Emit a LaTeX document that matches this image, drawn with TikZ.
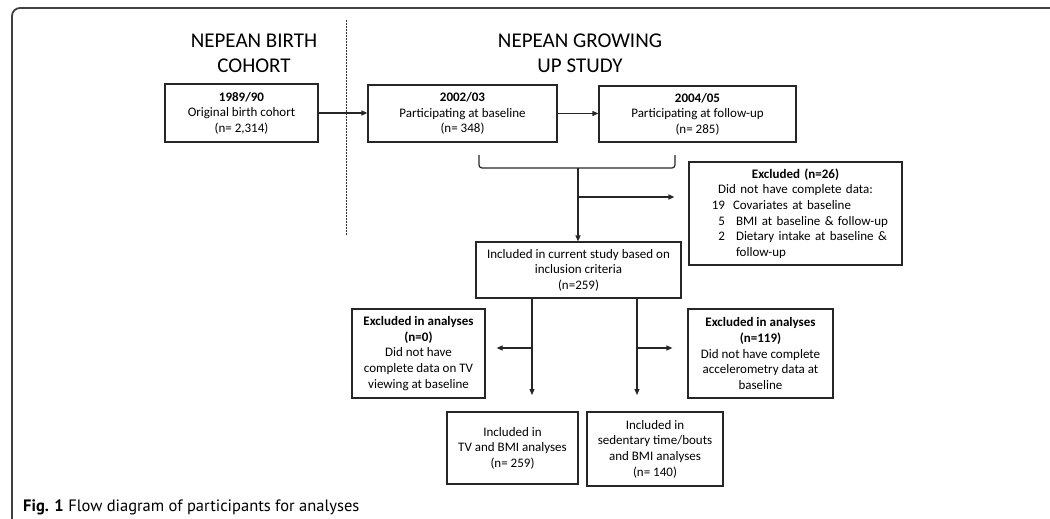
\documentclass[tikz,border=0pt]{standalone}
\usepackage{fontspec}
\setmainfont{Carlito}
\newfontfamily\capfont{PT Sans}
\usetikzlibrary{arrows.meta}
\begin{document}
\begin{tikzpicture}[x=1pt,y=-1pt,
  box/.style={draw=black!85, line width=1.2pt, inner sep=0pt, align=center,
    font=\fontsize{13}{15.6}\selectfont},
  arr/.style={draw=black!85, line width=1.2pt, -{Triangle[length=6pt,width=5pt]}},
  ln/.style={draw=black!85, line width=1.2pt},
  frame/.style={draw=black!75, line width=1.8pt, rounded corners=8pt},
  title/.style={align=center, font=\fontsize{21}{25}\selectfont, inner sep=0pt}]
\useasboundingbox (0,0) rectangle (1050,519);

% frame and divider
\coordinate (fbl) at (12,519);
\coordinate (ftl) at (12,8);
\coordinate (ftr) at (1050,8);
\draw[frame] (fbl) -- (ftl) -- (ftr);
\coordinate (dtop) at (346,20);
\coordinate (dbot) at (346,235);
\draw[draw=black!80, line width=0.9pt, dash pattern=on 2pt off 1pt] (dtop) -- (dbot);

% titles
\node[title] (t1) at (254,53.5) {NEPEAN BIRTH\\COHORT};
\node[title] (t2) at (580,53.5) {NEPEAN GROWING\\UP STUDY};

% top row
\node[box, minimum width=153pt, minimum height=58pt] (b1) at (241.5,113)
  {\textbf{1989/90}\\Original birth cohort\\(n= 2,314)};
\node[box, minimum width=189pt, minimum height=57pt] (b2) at (462.5,113.5)
  {\textbf{2002/03}\\Participating at baseline\\(n= 348)};
\node[box, minimum width=197pt, minimum height=56pt] (b3) at (697.5,114)
  {\textbf{2004/05}\\Participating at follow-up\\(n= 285)};
\draw[arr] (b1.east) -- (b1.east -| b2.west);
\draw[arr] (b2.east) -- (b2.east -| b3.west);

% excluded n=26
\node[draw=black!85, line width=1.2pt, inner sep=0pt, text width=213pt,
  minimum height=103pt, font=\fontsize{13}{15.6}\selectfont] (ex26) at (795.5,213.5)
  {{\centering\textbf{Excluded (n=26)}\par Did not have complete data:\par}
   \noindent\hspace*{20pt}\makebox[16pt][r]{19}\hspace{8pt}Covariates at baseline\par
   \noindent\hspace*{20pt}\makebox[16pt][r]{5}\hspace{11pt}BMI at baseline \& follow-up\par
   \noindent\hspace*{20pt}\makebox[16pt][r]{2}\hspace{11pt}Dietary intake at baseline \&\par
   \noindent\hspace*{47pt}follow-up\par};

% bracket
\coordinate (brA) at (479,155);
\coordinate (brB) at (479,168);
\coordinate (brC) at (675,168);
\coordinate (brD) at (675,155);
\coordinate (brM) at (578,168);
\coordinate (brJ) at (578,197);
\draw[ln, rounded corners=3pt] (brA) -- (brB) -- (brC) -- (brD);

% included
\node[box, minimum width=205pt, minimum height=56pt] (inc) at (578.5,270)
  {Included in current study based on\\inclusion criteria\\(n=259)};
\draw[arr] (brM) -- (brM |- inc.north);
\draw[arr, shorten >=14pt] (brJ) -- (brJ -| ex26.west);

% second level
\node[box, minimum width=133pt, minimum height=89pt] (exL) at (418.5,353.5)
  {\textbf{Excluded in analyses}\\\textbf{(n=0)}\\Did not have\\complete data on TV\\viewing at baseline};
\node[box, minimum width=145pt, minimum height=89pt] (exR) at (760.5,353.5)
  {\textbf{Excluded in analyses}\\\textbf{(n=119)}\\Did not have complete\\accelerometry data at\\baseline};
\node[box, minimum width=131pt, minimum height=72pt] (tv) at (512.5,448)
  {Included in\\TV and BMI analyses\\(n= 259)};
\node[box, minimum width=136pt, minimum height=74pt] (sed) at (655,449)
  {Included in\\sedentary time/bouts\\and BMI analyses\\(n= 140)};

\coordinate (tipL) at (532,395);
\coordinate (tipR) at (637,395);
\coordinate (jL) at (532,348);
\coordinate (jR) at (637,348);
\draw[arr] (inc.south -| tipL) -- (tipL);
\draw[arr] (inc.south -| tipR) -- (tipR);
\draw[arr, shorten >=11pt] (jL) -- (jL -| exL.east);
\draw[arr, shorten >=15pt] (jR) -- (jR -| exR.west);

% caption
\node[anchor=base west, inner sep=0pt, font=\capfont\fontsize{16.5}{18}\selectfont] (cap) at (23,511)
  {\textbf{Fig. 1} Flow diagram of participants for analyses};
\end{tikzpicture}
\end{document}
